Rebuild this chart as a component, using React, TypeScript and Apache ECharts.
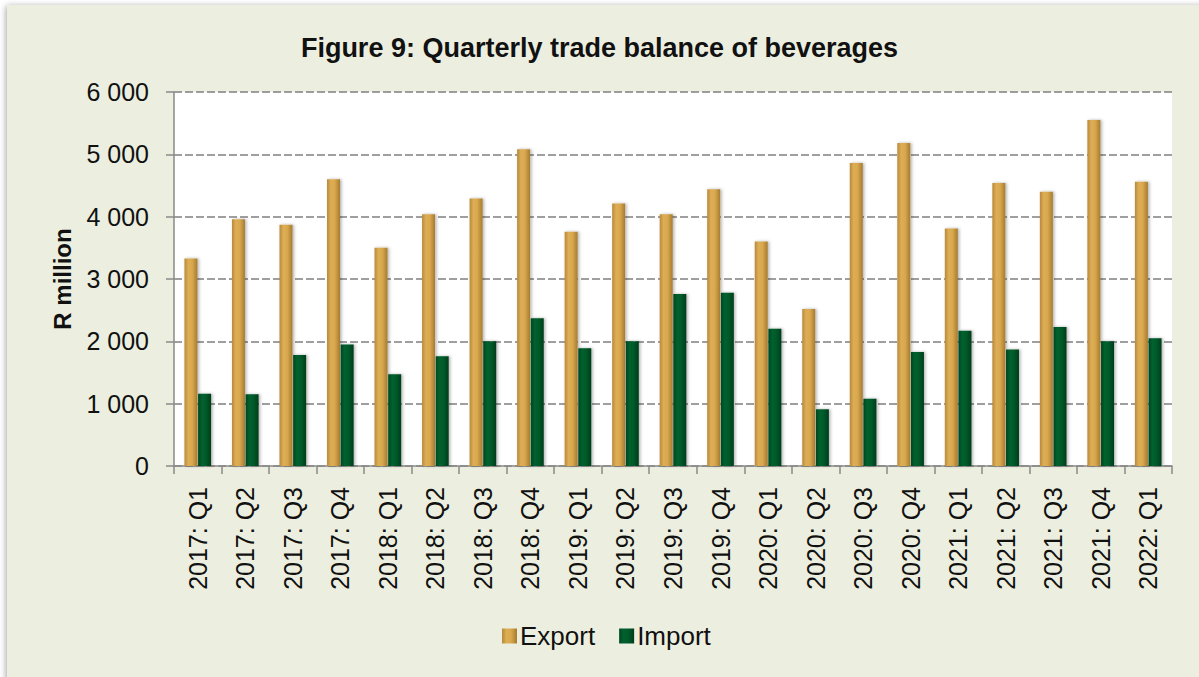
import React, { useEffect, useRef } from "react";
import * as echarts from "echarts";

const categories = [
  "2017: Q1", "2017: Q2", "2017: Q3", "2017: Q4",
  "2018: Q1", "2018: Q2", "2018: Q3", "2018: Q4",
  "2019: Q1", "2019: Q2", "2019: Q3", "2019: Q4",
  "2020: Q1", "2020: Q2", "2020: Q3", "2020: Q4",
  "2021: Q1", "2021: Q2", "2021: Q3", "2021: Q4",
  "2022: Q1",
];

const exportValues = [
  3330, 3960, 3870, 4600,
  3500, 4040, 4290, 5080,
  3760, 4210, 4040, 4440,
  3600, 2520, 4860, 5180,
  3810, 4540, 4400, 5550,
  4560,
];

const importValues = [
  1160, 1150, 1780, 1950,
  1470, 1760, 2000, 2370,
  1890, 2000, 2760, 2780,
  2200, 910, 1080, 1830,
  2170, 1870, 2230, 2000,
  2050,
];

const yTicks = { min: 0, max: 6000, interval: 1000 };

const FONT = "'Liberation Sans', Arial, sans-serif";

export default function App() {
  const ref = useRef<HTMLDivElement>(null);

  useEffect(() => {
    document.body.style.margin = "0";
    if (!ref.current) return;
    const chart = echarts.init(ref.current, null, { renderer: "svg" });

    const gold = new echarts.graphic.LinearGradient(0, 0, 1, 0, [
      { offset: 0, color: "#B8893A" },
      { offset: 0.3, color: "#DDAE56" },
      { offset: 0.6, color: "#D9A84E" },
      { offset: 1, color: "#A67B30" },
    ]);
    const green = new echarts.graphic.LinearGradient(0, 0, 1, 0, [
      { offset: 0, color: "#00461F" },
      { offset: 0.3, color: "#00612E" },
      { offset: 0.6, color: "#005A2A" },
      { offset: 1, color: "#003D1A" },
    ]);

    chart.setOption({
      animation: false,
      backgroundColor: "#ffffff",
      graphic: [
        {
          type: "rect",
          z: -10,
          silent: true,
          shape: { x: 7, y: 5, width: 1300, height: 800 },
          style: {
            fill: "#ECEFDF",
            shadowBlur: 6,
            shadowColor: "rgba(0,0,0,0.35)",
            shadowOffsetX: -1,
            shadowOffsetY: 1,
          },
        },
      ],
      title: {
        text: "Figure 9: Quarterly trade balance of beverages",
        left: "center",
        top: 29,
        textStyle: {
          fontFamily: FONT,
          fontWeight: "bold",
          fontSize: 27,
          color: "#111111",
        },
      },
      legend: {
        left: 497,
        top: 618,
        itemWidth: 15,
        itemHeight: 15,
        itemGap: 24,
        icon: "rect",
        textStyle: {
          fontFamily: FONT,
          fontSize: 26,
          color: "#111111",
          padding: [0, 0, 0, -2],
        },
        data: ["Export", "Import"],
      },
      grid: {
        left: 174,
        right: 27,
        top: 92,
        bottom: 211,
        show: true,
        backgroundColor: "#ffffff",
        borderWidth: 0,
      },
      xAxis: {
        type: "category",
        data: categories,
        axisLine: { lineStyle: { color: "#8A8A8A", width: 1.5 } },
        axisTick: { show: true, length: 8, lineStyle: { color: "#8A8A8A", width: 1.5 } },
        axisLabel: {
          rotate: 90,
          margin: 21,
          fontFamily: FONT,
          fontSize: 25,
          color: "#111111",
          interval: 0,
        },
      },
      yAxis: {
        type: "value",
        min: yTicks.min,
        max: yTicks.max,
        interval: yTicks.interval,
        name: "R million",
        nameLocation: "middle",
        nameRotate: 90,
        nameGap: 100,
        nameTextStyle: {
          fontFamily: FONT,
          fontWeight: "bold",
          fontSize: 24,
          color: "#111111",
        },
        axisLine: { show: true, lineStyle: { color: "#8A8A8A", width: 1.5 } },
        axisTick: { show: true, length: 8, lineStyle: { color: "#8A8A8A", width: 1.5 } },
        axisLabel: {
          margin: 25,
          fontFamily: FONT,
          fontSize: 25,
          color: "#111111",
          formatter: (v: number) =>
            v >= 1000 ? `${Math.floor(v / 1000)} ${String(v % 1000).padStart(3, "0")}` : String(v),
        },
        splitLine: {
          show: true,
          lineStyle: { color: "#808080", width: 1.5, type: [8, 3] },
        },
      },
      series: [
        {
          name: "Export",
          type: "bar",
          data: exportValues,
          barWidth: 13,
          barGap: "5%",
          itemStyle: {
            color: gold,
            shadowColor: "rgba(0,0,0,0.3)",
            shadowBlur: 3,
            shadowOffsetX: 1.5,
          },
        },
        {
          name: "Import",
          type: "bar",
          data: importValues,
          barWidth: 13,
          barGap: "5%",
          itemStyle: {
            color: green,
            shadowColor: "rgba(0,0,0,0.3)",
            shadowBlur: 3,
            shadowOffsetX: 1.5,
          },
        },
      ],
    });

    return () => chart.dispose();
  }, []);

  return (
    <div
      ref={ref}
      style={{ position: "absolute", left: 0, top: 0, width: 1199, height: 677 }}
    />
  );
}
